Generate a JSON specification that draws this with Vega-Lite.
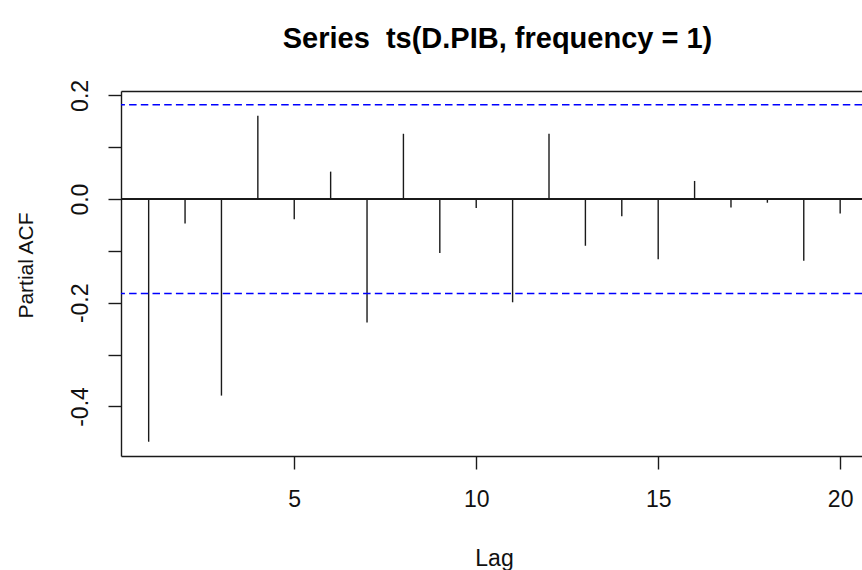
{
  "$schema": "https://vega.github.io/schema/vega-lite/v6.json",
  "width": 741,
  "height": 365,
  "autosize": {"type": "none"},
  "padding": {"left": 121, "top": 91, "right": 0, "bottom": 114},
  "background": "white",
  "config": {
    "view": {"stroke": null},
    "font": "Liberation Sans"
  },
  "title": {
    "text": "Series \u00a0ts(D.PIB, frequency = 1)",
    "font": "Liberation Sans",
    "fontSize": 29,
    "fontWeight": "bold",
    "color": "black",
    "anchor": "middle",
    "baseline": "alphabetic",
    "offset": 2,
    "dx": 6
  },
  "data": {
    "values": [
      {"lag": 1, "pacf": -0.468},
      {"lag": 2, "pacf": -0.047},
      {"lag": 3, "pacf": -0.379},
      {"lag": 4, "pacf": 0.161},
      {"lag": 5, "pacf": -0.039},
      {"lag": 6, "pacf": 0.053},
      {"lag": 7, "pacf": -0.238},
      {"lag": 8, "pacf": 0.126},
      {"lag": 9, "pacf": -0.104},
      {"lag": 10, "pacf": -0.017},
      {"lag": 11, "pacf": -0.199},
      {"lag": 12, "pacf": 0.126},
      {"lag": 13, "pacf": -0.090},
      {"lag": 14, "pacf": -0.033},
      {"lag": 15, "pacf": -0.116},
      {"lag": 16, "pacf": 0.035},
      {"lag": 17, "pacf": -0.016},
      {"lag": 18, "pacf": -0.007},
      {"lag": 19, "pacf": -0.119},
      {"lag": 20, "pacf": -0.028}
    ]
  },
  "resolve": {"axis": {"x": "independent"}},
  "layer": [
    {
      "mark": {"type": "rule", "color": "#1a1a1a", "strokeWidth": 1.4},
      "encoding": {
        "x": {
          "field": "lag",
          "type": "quantitative",
          "scale": {"domain": [0.24, 20.6], "nice": false, "zero": false},
          "axis": {
            "values": [5, 10, 15, 20],
            "grid": false,
            "domain": true,
            "domainColor": "#1a1a1a",
            "domainWidth": 1.4,
            "tickColor": "#1a1a1a",
            "tickWidth": 1.4,
            "tickSize": 13,
            "labelFont": "Liberation Sans",
            "labelFontSize": 23,
            "labelColor": "#111111",
            "labelBaseline": "alphabetic",
            "labelPadding": 37,
            "labelFlush": false,
            "labelOverlap": false,
            "title": "Lag",
            "titleFont": "Liberation Sans",
            "titleFontSize": 23,
            "titleFontWeight": "normal",
            "titleColor": "#111111",
            "titleBaseline": "alphabetic",
            "titleAlign": "center",
            "titleX": 373,
            "titleY": 109
          }
        },
        "y": {
          "field": "pacf",
          "type": "quantitative",
          "scale": {"domain": [-0.4955, 0.2085], "nice": false, "zero": false},
          "axis": {
            "values": [-0.4, -0.3, -0.2, -0.1, 0, 0.1, 0.2],
            "labelExpr": "round(datum.value * 10) % 2 == 0 ? ((datum.value < -0.001 ? '-' : '') + format(abs(datum.value), '.1f')) : ''",
            "grid": false,
            "domain": true,
            "domainColor": "#1a1a1a",
            "domainWidth": 1.4,
            "tickColor": "#1a1a1a",
            "tickWidth": 1.4,
            "tickSize": 13,
            "labelFont": "Liberation Sans",
            "labelFontSize": 23,
            "labelColor": "#111111",
            "labelAngle": 270,
            "labelAlign": "center",
            "labelBaseline": "alphabetic",
            "labelPadding": 21,
            "labelFlush": false,
            "labelOverlap": false,
            "title": "Partial ACF",
            "titleFont": "Liberation Sans",
            "titleFontSize": 21,
            "titleFontWeight": "normal",
            "titleColor": "#111111",
            "titleAngle": 270,
            "titleBaseline": "alphabetic",
            "titleAlign": "center",
            "titleX": -89,
            "titleY": 174
          }
        },
        "y2": {"datum": 0}
      }
    },
    {
      "mark": {"type": "rule", "color": "#1a1a1a", "strokeWidth": 1.4},
      "encoding": {"y": {"datum": 0}}
    },
    {
      "data": {"values": [{"ci": 0.182}, {"ci": -0.182}]},
      "mark": {"type": "rule", "color": "#0000ff", "strokeWidth": 1.4, "strokeDash": [7.5, 4.2]},
      "encoding": {"y": {"field": "ci", "type": "quantitative"}}
    },
    {
      "mark": {"type": "rule", "opacity": 0},
      "encoding": {
        "x": {
          "field": "lag",
          "type": "quantitative",
          "axis": {
            "orient": "top",
            "labels": false,
            "ticks": false,
            "grid": false,
            "title": null,
            "domain": true,
            "domainColor": "#1a1a1a",
            "domainWidth": 1.4
          }
        }
      }
    }
  ]
}
